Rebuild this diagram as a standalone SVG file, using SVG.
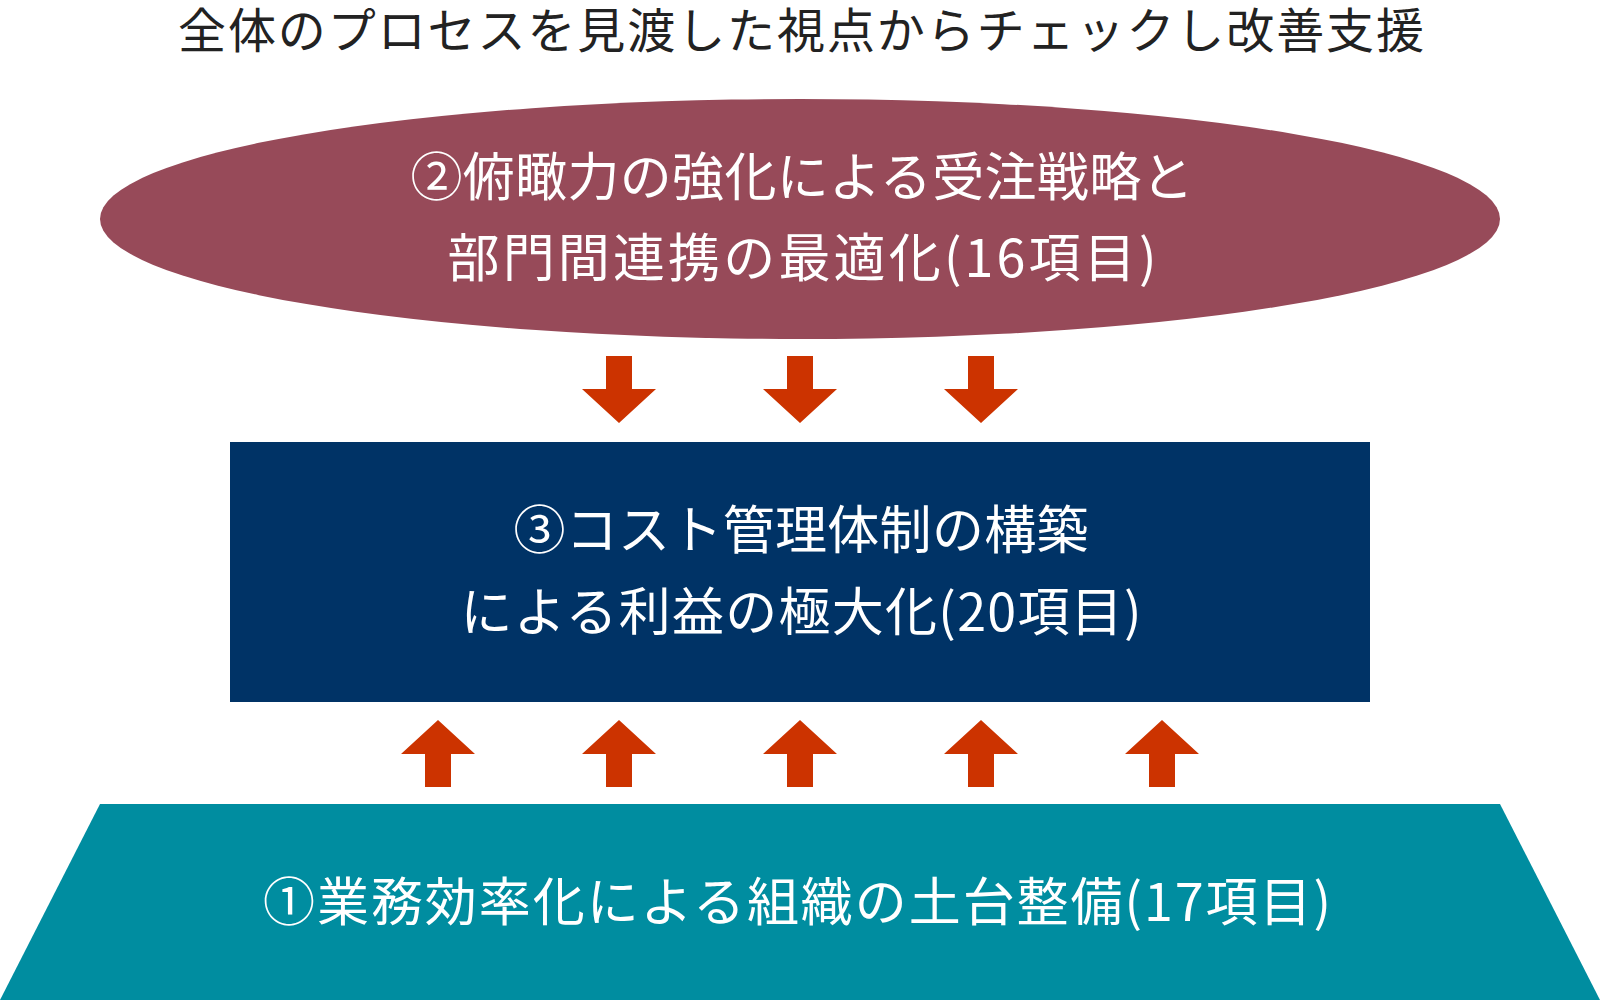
<svg xmlns="http://www.w3.org/2000/svg" xmlns:xlink="http://www.w3.org/1999/xlink" width="1600" height="1000" viewBox="0 0 1600 1000">
<style>
text{font-family:"Noto Sans CJK JP","Noto Sans",sans-serif;text-anchor:middle;}
.title{font-size:48px;fill:#222222;}
.lbl{font-size:52px;fill:#ffffff;}
.arrow{fill:#CC3300;}
</style>
<defs>
<path id="down" d="M-13,356 H13 V389 H37 L0,423 L-37,389 H-13 Z"/>
<path id="up" d="M0,720 L37,754 H13 V787 H-13 V754 H-37 Z"/>
</defs>
<rect x="0" y="0" width="1600" height="1000" fill="#ffffff"/>
<g id="title">
<text class="title" x="801" y="48" textLength="1246" lengthAdjust="spacing">全体のプロセスを見渡した視点からチェックし改善支援</text>
</g>
<g id="node2">
<ellipse cx="800" cy="219" rx="700" ry="120" fill="#974A59"/>
<text class="lbl" x="802" y="196" textLength="783" lengthAdjust="spacing">②俯瞰力の強化による受注戦略と</text>
<text class="lbl" x="802" y="277" textLength="709" lengthAdjust="spacing">部門間連携の最適化(16項目)</text>
</g>
<g id="node3">
<rect x="230" y="442" width="1140" height="260" fill="#003366"/>
<text class="lbl" x="801" y="549" textLength="575" lengthAdjust="spacing">③コスト管理体制の構築</text>
<text class="lbl" x="801" y="631" textLength="681" lengthAdjust="spacing">による利益の極大化(20項目)</text>
</g>
<g id="node1">
<polygon points="100,804 1500,804 1600,1000 0,1000" fill="#008DA0"/>
<text class="lbl" x="797" y="921" textLength="1068" lengthAdjust="spacing">①業務効率化による組織の土台整備(17項目)</text>
</g>
<g id="connectors" class="arrow">
<use xlink:href="#down" x="619"/>
<use xlink:href="#down" x="800"/>
<use xlink:href="#down" x="981"/>
<use xlink:href="#up" x="438"/>
<use xlink:href="#up" x="619"/>
<use xlink:href="#up" x="800"/>
<use xlink:href="#up" x="981"/>
<use xlink:href="#up" x="1162"/>
</g>
</svg>
